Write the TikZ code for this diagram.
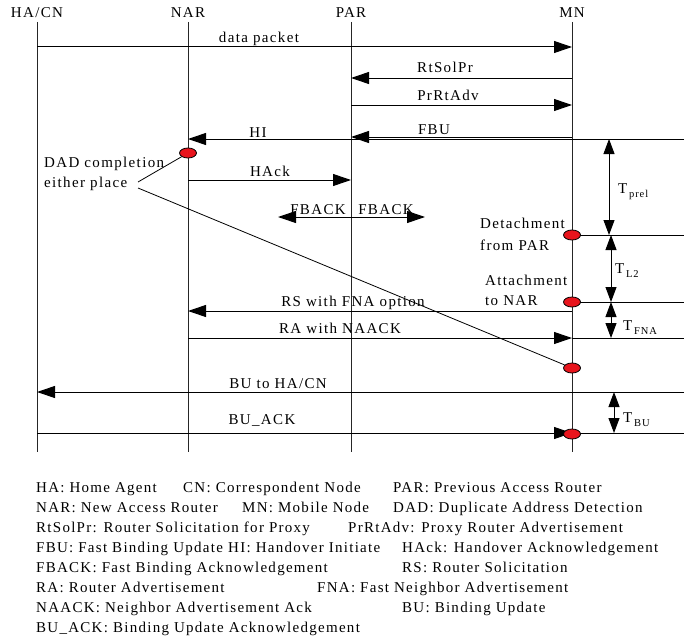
\documentclass[tikz,border=0pt]{standalone}
\usepackage{fontspec}
\setmainfont{Liberation Serif}
\newfontfamily\diagserif[LetterSpace=9]{Liberation Serif}
\newfontfamily\legserif[LetterSpace=8.5]{Liberation Serif}
\newcommand{\diagfont}{\diagserif\fontsize{15}{16}\selectfont}
\newcommand{\legfont}{\legserif\fontsize{15}{16}\selectfont}
\newcommand{\subfont}{\diagserif\fontsize{10.5}{10.5}\selectfont}
\usepackage{tikz}
\usetikzlibrary{arrows.meta,positioning,shapes.geometric,calc}
\definecolor{evred}{HTML}{E8141C}

\begin{document}
\begin{tikzpicture}[
    x=1pt, y=-1pt,
    >={Triangle[length=18pt,width=12pt]},
    head/.style={font=\diagfont, anchor=base, inner sep=0pt},
    lifeline/.style={draw=black!85, line width=1pt},
    msg/.style={->, line width=1pt},
    guide/.style={line width=1pt},
    msglabel/.style={font=\diagfont, anchor=base, inner sep=0pt},
    note/.style={font=\diagfont, anchor=base west, inner sep=0pt},
    event/.style={
        ellipse,
        draw=black,
        fill=evred,
        line width=0.8pt,
        minimum width=17pt,
        minimum height=10pt,
        inner sep=0pt
    },
    span/.style={
        {Triangle[length=15pt,width=11pt]}-{Triangle[length=15pt,width=11pt]},
        line width=1pt
    },
    legend/.style={font=\legfont, anchor=base west, inner sep=0pt}
]
\useasboundingbox (0,0) rectangle (695,642);

% ---- Entities and lifelines ----
\node[head] (hacn) at (37,18)  {HA/CN};
\node[head] (nar)  at (188,18) {NAR};
\node[head] (par)  at (351,18) {PAR};
\node[head] (mn)   at (572,18) {MN};

\coordinate (top)    at (0,22);
\coordinate (bottom) at (0,452);
\coordinate (rim)    at (684,0);

\foreach \who in {hacn,nar,par,mn}
    \draw[lifeline] (\who |- top) -- (\who |- bottom);

% ---- Messages ----
\draw[msg] (hacn |- 0,47) -- (mn |- 0,47);
\node[msglabel] (lbldata) at (259,43) {data packet};

\draw[msg] (mn |- 0,78) -- (par |- 0,78);
\node[msglabel] (lblrtsol) at (445,72) {RtSolPr};

\draw[msg] (par |- 0,105) -- (mn |- 0,105);
\node[msglabel] (lblprrt) at (448,100) {PrRtAdv};

\draw[msg] (mn |- 0,137) -- (par |- 0,137);
\node[msglabel] (lblfbu) at (434,134) {FBU};

\draw[msg] (rim |- 0,139) -- (nar |- 0,139);
\node[msglabel] (lblhi) at (258,137) {HI};

\draw[msg] (nar |- 0,180) -- (par |- 0,180);
\node[msglabel] (lblhack) at (270,176) {HAck};

% FBACK goes out both ways from PAR
\coordinate (fbackl) at (278,217);
\coordinate (fbackr) at (425,217);
\draw[msg] (par |- fbackl) -- (fbackl);
\draw[msg] (par |- fbackr) -- (fbackr);
\node[msglabel] (lblfbackl) at (318,214) {FBACK};
\node[msglabel] (lblfbackr) at (386,214) {FBACK};

\draw[msg] (mn |- 0,311) -- (nar |- 0,311);
\node[msglabel] (lblrs) at (353,306) {RS with FNA option};

\draw[msg] (nar |- 0,338) -- (mn |- 0,338);
\node[msglabel] (lblra) at (340,333) {RA with NAACK};

\draw[msg] (rim |- 0,392) -- (hacn |- 0,392);
\node[msglabel] (lblbu) at (278,388) {BU to HA/CN};

\draw[msg] (hacn |- 0,433) -- (mn |- 0,433);
\node[msglabel] (lblbuack) at (262,424) {BU\_ACK};

% ---- Reference lines to the timing scale ----
\draw[guide] (mn |- 0,235) -- (rim |- 0,235);
\draw[guide] (mn |- 0,302) -- (rim |- 0,302);
\draw[guide] (mn |- 0,338) -- (rim |- 0,338);
\draw[guide] (mn |- 0,433) -- (rim |- 0,433);

% ---- Events ----
\node[event] (narev) at (nar |- 0,153) {};
\node[event] (mnev1) at (mn |- 0,235) {};
\node[event] (mnev2) at (mn |- 0,302) {};
\node[event] (mnev3) at (mn |- 0,368) {};
\node[event] (mnev4) at (mn |- 0,434) {};

% ---- Notes ----
\node[note] (dadtop) at (44,167) {DAD completion};
\node[note] (dadbot) at (44,187) {either place};
\coordinate (dadtip1) at (138,182);
\coordinate (dadtip2) at (138,188);
\draw[line width=0.8pt] (dadtip1) -- (narev);
\draw[line width=0.8pt] (dadtip2) -- (mnev3);

\node[note] (detach1) at (480,228) {Detachment};
\node[note] (detach2) at (480,250) {from PAR};
\node[note] (attach1) at (485,285) {Attachment};
\node[note] (attach2) at (485,305) {to NAR};

% ---- Timing intervals ----
\draw[span] (609,139) -- (609,235);
\node[note] (tprel) at (618,193) {T\raisebox{-4pt}{\subfont\,prel}};
\draw[span] (611,235) -- (611,302);
\node[note] (tltwo) at (615,273) {T\raisebox{-4pt}{\subfont\,L2}};
\draw[span] (611,302) -- (611,338);
\node[note] (tfna) at (623,330) {T\raisebox{-4pt}{\subfont\,FNA}};
\draw[span] (614,392) -- (614,433);
\node[note] (tbu) at (623,422) {T\raisebox{-4pt}{\subfont\,BU}};

% ---- Abbreviations ----
\node[legend] (leg1a) at (36,492)  {HA: Home Agent};
\node[legend] (leg1b) at (183,492) {CN: Correspondent Node};
\node[legend] (leg1c) at (393,492) {PAR: Previous Access Router};
\node[legend] (leg2a) at (36,512)  {NAR: New Access Router};
\node[legend] (leg2b) at (242,512) {MN: Mobile Node};
\node[legend] (leg2c) at (393,512) {DAD: Duplicate Address Detection};
\node[legend] (leg3a) at (36,532)  {RtSolPr: Router Solicitation for Proxy};
\node[legend] (leg3b) at (348,532) {PrRtAdv: Proxy Router Advertisement};
\node[legend] (leg4a) at (36,552)  {FBU: Fast Binding Update};
\node[legend] (leg4b) at (228,552) {HI: Handover Initiate};
\node[legend] (leg4c) at (402,552) {HAck: Handover Acknowledgement};
\node[legend] (leg5a) at (36,572)  {FBACK: Fast Binding Acknowledgement};
\node[legend] (leg5b) at (402,572) {RS: Router Solicitation};
\node[legend] (leg6a) at (36,592)  {RA: Router Advertisement};
\node[legend] (leg6b) at (317,592) {FNA: Fast Neighbor Advertisement};
\node[legend] (leg7a) at (36,612)  {NAACK: Neighbor Advertisement Ack};
\node[legend] (leg7b) at (402,612) {BU: Binding Update};
\node[legend] (leg8a) at (36,632)  {BU\_ACK: Binding Update Acknowledgement};

\end{tikzpicture}
\end{document}
